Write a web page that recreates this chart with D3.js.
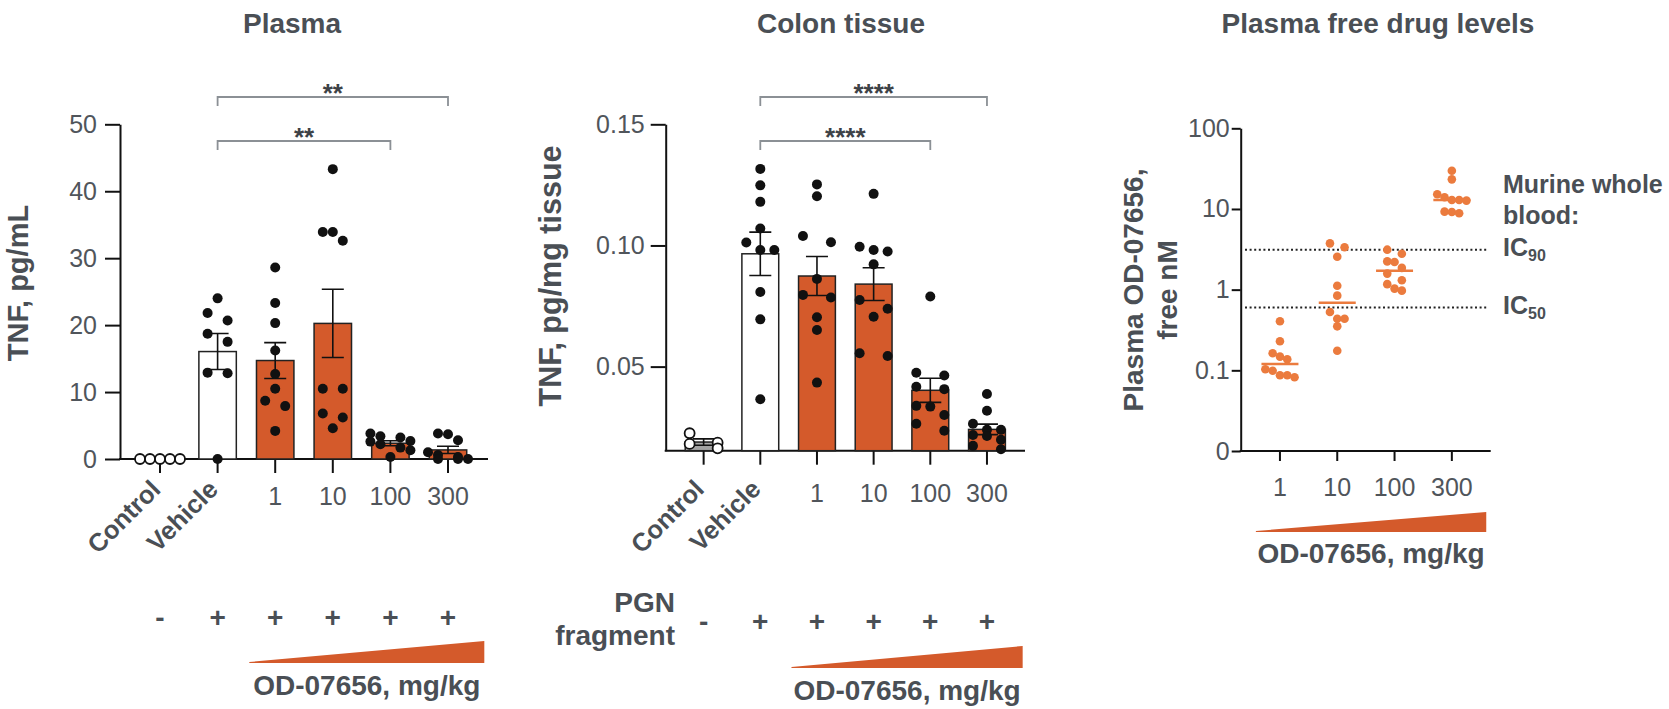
<!DOCTYPE html>
<html>
<head>
<meta charset="utf-8">
<script src="https://cdn.jsdelivr.net/npm/d3@7"></script>
<style>
  body { margin: 0; background: #fff; }
  svg text { font-family: "Liberation Sans", Arial, Helvetica, sans-serif; fill: #4a4f55; }
</style>
</head>
<body>
<svg id="chart" width="1669" height="709"></svg>
<script>
// groups on the x axis of the two TNF panels
const groups = ["Control", "Vehicle", "1", "10", "100", "300"];
const pgnRow = ["-", "+", "+", "+", "+", "+"];

// TNF in plasma, pg/mL (one array per group)
const plasmaTNF = [
  [0, 0, 0, 0, 0],
  [24.0, 21.8, 20.7, 18.7, 17.5, 12.9, 12.8, 0],
  [28.6, 23.3, 20.3, 16.2, 12.7, 10.5, 8.7, 7.9, 4.2],
  [43.3, 33.9, 33.9, 32.6, 10.5, 10.5, 6.8, 6.2, 4.6],
  [3.8, 3.4, 3.2, 2.7, 2.6, 2.2, 1.7, 1.3, 0.3],
  [3.8, 3.7, 2.8, 1.0, 0.6, 0.3, 0, 0, 0]
];

// TNF in colon tissue, pg/mg tissue
const colonTNF = [
  [0.0225, 0.0186, 0.0181, 0.0163],
  [0.1316, 0.1248, 0.118, 0.107, 0.1012, 0.0981, 0.0981, 0.0808, 0.0695, 0.0365],
  [0.1252, 0.1203, 0.1039, 0.1013, 0.0862, 0.0796, 0.0785, 0.0704, 0.0651, 0.0434],
  [0.1213, 0.0995, 0.0975, 0.0981, 0.0922, 0.0775, 0.0739, 0.0706, 0.0544, 0.0555],
  [0.0789, 0.0475, 0.0463, 0.0417, 0.0407, 0.0338, 0.0335, 0.030, 0.0264, 0.0235],
  [0.0387, 0.0318, 0.0264, 0.0239, 0.0214, 0.0218, 0.0239, 0.0173, 0.0159, 0.0198]
];

// plasma free drug, nM
const doses = ["1", "10", "100", "300"];
const freeDrug = [
  [0.405, 0.229, 0.163, 0.148, 0.137, 0.103, 0.099, 0.087, 0.087, 0.082],
  [3.75, 3.35, 2.56, 1.12, 0.843, 0.529, 0.436, 0.436, 0.351, 0.175],
  [3.13, 2.79, 2.24, 2.2, 1.86, 1.58, 1.31, 1.17, 1.03, 0.972],
  [29.8, 23.3, 15.2, 13.97, 12.9, 12.9, 12.7, 9.27, 9.18, 8.84]
];
const ic90 = 3.13;
const ic50 = 0.60;

const plasmaSig = [
  { from: "Vehicle", to: "100", label: "**" },
  { from: "Vehicle", to: "300", label: "**" }
];
const colonSig = [
  { from: "Vehicle", to: "100", label: "****" },
  { from: "Vehicle", to: "300", label: "****" }
];

const ORANGE = "#d45a2b";
const DOT3 = "#eb7b3e";
const BRACKET = "#8b9095";
const FONT_B = 28;

const svg = d3.select("#chart");

// scatter layout: points with close values go into one row, spread side by side
function swarm(values, y, r, step, maxRow) {
  const pts = values.map(v => ({ v, py: y(v) })).sort((a, b) => b.v - a.v);
  const rows = [];
  pts.forEach(p => {
    const row = rows[rows.length - 1];
    if (row && Math.abs(p.py - row[0].py) < 2 * r && row.length < maxRow) row.push(p);
    else rows.push([p]);
  });
  rows.forEach(row => {
    const n = row.length;
    let offs;
    if (n % 2) offs = d3.range(n).map(i => i - (n - 1) / 2);
    else offs = d3.range(n).map(i => { const k = i - n / 2; return k < 0 ? k : k + 1; });
    row.forEach((p, i) => { p.dx = offs[i] * step; });
  });
  return pts;
}

function sem(arr) {
  return arr.length > 1 ? d3.deviation(arr) / Math.sqrt(arr.length) : 0;
}

function boldText(g, x, y, str, size, anchor) {
  return g.append("text").attr("x", x).attr("y", y).attr("text-anchor", anchor || "middle")
    .attr("font-weight", "bold").attr("font-size", size || FONT_B).text(str);
}

function barPanel(cfg) {
  const g = svg.append("g");
  const x = d3.scaleBand().domain(groups).range(cfg.xRange);
  const y = cfg.y;
  const bw = x.bandwidth() * 0.65;
  const cx = d => x(d) + x.bandwidth() / 2;

  // y axis
  const ya = g.append("g").attr("transform", `translate(${cfg.axisX},0)`)
    .call(d3.axisLeft(y).tickValues(cfg.yTicks).tickFormat(cfg.yFormat)
      .tickSize(15).tickSizeOuter(0).tickPadding(cfg.yPad));
  ya.selectAll("path,line").attr("stroke", "#111").attr("stroke-width", 2);
  ya.selectAll("text").attr("font-size", 25).attr("font-family", null).style("fill", "#50555b");

  // x axis
  const xa = g.append("g").attr("transform", `translate(0,${y.range()[0]})`)
    .call(d3.axisBottom(x).tickSize(14).tickPadding(cfg.xPad));
  xa.select(".domain").remove();
  xa.selectAll("line").attr("stroke", "#111").attr("stroke-width", 2);
  xa.selectAll("text").attr("font-size", 25).attr("font-family", null).style("fill", "#50555b");
  xa.selectAll(".tick text").filter(d => d === "Control" || d === "Vehicle")
    .attr("font-weight", "bold").attr("font-size", 25.5).style("fill", "#4a4f55")
    .attr("text-anchor", "end").attr("dy", null)
    .attr("x", 2).attr("y", cfg.rotY)
    .attr("transform", `rotate(-45,2,${cfg.rotY})`);
  g.append("line").attr("x1", cfg.axisX - 1).attr("x2", cfg.axisEnd)
    .attr("y1", y.range()[0]).attr("y2", y.range()[0])
    .attr("stroke", "#111").attr("stroke-width", 2);

  const stats = cfg.data.map((arr, i) => ({ key: groups[i], vals: arr, mean: d3.mean(arr), se: sem(arr) }));

  // bars
  g.selectAll("rect.bar").data(stats.filter(s => s.mean > y.domain()[0] + 1e-9)).join("rect")
    .attr("class", "bar")
    .attr("x", d => cx(d.key) - bw / 2).attr("width", bw)
    .attr("y", d => y(d.mean)).attr("height", d => y.range()[0] - y(d.mean))
    .attr("fill", d => d.key === "Vehicle" ? "#fff" : d.key === "Control" ? "#a3a3a3" : ORANGE)
    .attr("stroke", "#222").attr("stroke-width", 1.5);

  // error bars (mean ± SEM)
  stats.filter(s => s.se > 0).forEach(s => {
    const c = cx(s.key), hi = y(s.mean + s.se), lo = y(Math.max(s.mean - s.se, y.domain()[0]));
    g.append("path").attr("d", `M${c},${hi}V${lo}M${c - 11},${hi}H${c + 11}M${c - 11},${lo}H${c + 11}`)
      .attr("stroke", "#111").attr("stroke-width", 1.6).attr("fill", "none");
  });

  // dots
  stats.forEach(s => {
    const open = s.key === "Control";
    g.selectAll(null).data(swarm(s.vals, y, cfg.r, cfg.step, 4)).join("circle")
      .attr("cx", d => cx(s.key) + d.dx).attr("cy", d => d.py).attr("r", cfg.r)
      .attr("fill", open ? "#fff" : "#111").attr("stroke", "#111").attr("stroke-width", open ? 1.8 : 0);
  });

  // significance brackets
  cfg.sig.forEach((b, i) => {
    const by = cfg.sigY[i], x1 = cx(b.from), x2 = cx(b.to);
    g.append("path").attr("d", `M${x1},${by + 9}V${by}H${x2}V${by + 9}`)
      .attr("stroke", BRACKET).attr("stroke-width", 1.8).attr("fill", "none");
    boldText(g, (x1 + x2) / 2, by + 5, b.label, 26).style("fill", "#3d4247");
  });

  // PGN +/- row
  pgnRow.forEach((s, i) => boldText(g, cx(groups[i]), cfg.pmY, s, 28));

  // dose wedge
  const step = x.step();
  const wx0 = cx("1") - 0.45 * step, wx1 = cx("300") + 0.63 * step;
  g.append("path").attr("d", `M${wx0},${cfg.wedgeY}L${wx1},${cfg.wedgeY - 21}V${cfg.wedgeY + 1}H${wx0}Z`)
    .attr("fill", ORANGE);
  boldText(g, (wx0 + wx1) / 2, cfg.wedgeY + 33, "OD-07656, mg/kg");

  // titles
  boldText(g, cfg.titleX, 33, cfg.title);
  g.append("text").attr("transform", `translate(${cfg.ylabX},${cfg.ylabY}) rotate(-90)`)
    .attr("text-anchor", "middle").attr("font-weight", "bold").attr("font-size", cfg.ylabSize).text(cfg.ylab);
  return { g, x, y };
}

barPanel({
  data: plasmaTNF,
  xRange: [131.2, 476.8], axisX: 120, axisEnd: 488,
  y: d3.scaleLinear().domain([0, 50]).range([459, 124.3]),
  yTicks: [0, 10, 20, 30, 40, 50], yFormat: d3.format("d"), yPad: 8, xPad: 14, rotY: 32,
  r: 5, step: 10, sig: plasmaSig, sigY: [141, 97],
  pmY: 627, wedgeY: 662, title: "Plasma", titleX: 292,
  ylab: "TNF, pg/mL", ylabX: 28, ylabY: 283, ylabSize: 29
});

const colon = barPanel({
  data: colonTNF,
  xRange: [675.3, 1015.3], axisX: 665.7, axisEnd: 1025,
  y: d3.scaleLinear().domain([0.0153, 0.15]).range([450.7, 124.3]),
  yTicks: [0.05, 0.10, 0.15], yFormat: d3.format(".2f"), yPad: 6, xPad: 20, rotY: 40,
  r: 5, step: 14, sig: colonSig, sigY: [141, 97],
  pmY: 631, wedgeY: 667, title: "Colon tissue", titleX: 841,
  ylab: "TNF, pg/mg tissue", ylabX: 561, ylabY: 276, ylabSize: 30.5
});
boldText(colon.g, 675, 612, "PGN", 28, "end");
boldText(colon.g, 675, 645, "fragment", 28, "end");

// ---- plasma free drug levels ----
(function () {
  const g = svg.append("g");
  const x = d3.scaleBand().domain(doses).range([1251.3, 1480.5]);
  const y = d3.scaleLog().domain([0.01, 100]).range([451, 128.3]);
  const cx = d => x(d) + x.bandwidth() / 2;
  const axisX = 1240.7, axisEnd = 1490.7;

  const ya = g.append("g").attr("transform", `translate(${axisX},0)`)
    .call(d3.axisLeft(y).tickValues([0.01, 0.1, 1, 10, 100])
      .tickFormat(v => v < 0.05 ? "0" : String(v)).tickSize(9).tickSizeOuter(0).tickPadding(2));
  ya.selectAll("path,line").attr("stroke", "#111").attr("stroke-width", 2);
  ya.selectAll("text").attr("font-size", 25).attr("font-family", null).style("fill", "#50555b");

  const xa = g.append("g").attr("transform", `translate(0,${y.range()[0]})`)
    .call(d3.axisBottom(x).tickSize(10).tickPadding(17));
  xa.select(".domain").remove();
  xa.selectAll("line").attr("stroke", "#111").attr("stroke-width", 2);
  xa.selectAll("text").attr("font-size", 25).attr("font-family", null).style("fill", "#50555b");
  g.append("line").attr("x1", axisX - 1).attr("x2", axisEnd)
    .attr("y1", y.range()[0]).attr("y2", y.range()[0]).attr("stroke", "#111").attr("stroke-width", 2);

  // IC lines
  [ic90, ic50].forEach(v => {
    g.append("line").attr("x1", 1245).attr("x2", 1488).attr("y1", y(v)).attr("y2", y(v))
      .attr("stroke", "#222").attr("stroke-width", 2).attr("stroke-dasharray", "2,2.6");
  });

  freeDrug.forEach((arr, i) => {
    const c = cx(doses[i]);
    g.selectAll(null).data(swarm(arr, y, 4.3, 7.3, 5)).join("circle")
      .attr("cx", d => c + d.dx).attr("cy", d => d.py).attr("r", 4.3).attr("fill", DOT3);
    const m = y(d3.median(arr));
    g.append("line").attr("x1", c - 18.5).attr("x2", c + 18.5).attr("y1", m).attr("y2", m)
      .attr("stroke", DOT3).attr("stroke-width", 2.5);
  });

  // annotation
  const ax = 1503;
  boldText(g, ax, 193, "Murine whole", 25, "start");
  boldText(g, ax, 224, "blood:", 25, "start");
  [[ic90, "90"], [ic50, "50"]].forEach(([v, sub]) => {
    const t = boldText(g, ax, y(v) + 6, "IC", 25, "start");
    t.append("tspan").attr("font-size", 16).attr("dy", 5).text(sub);
  });

  // dose wedge + label
  const step = x.step();
  const wx0 = cx("1") - 0.42 * step, wx1 = cx("300") + 0.6 * step;
  g.append("path").attr("d", `M${wx0},${531}L${wx1},${512}V${532}H${wx0}Z`).attr("fill", ORANGE);
  boldText(g, (wx0 + wx1) / 2, 563, "OD-07656, mg/kg");

  boldText(g, 1378, 33, "Plasma free drug levels");
  const yl = 290;
  g.append("text").attr("transform", `translate(1143,${yl}) rotate(-90)`).attr("text-anchor", "middle")
    .attr("font-weight", "bold").attr("font-size", 28).text("Plasma OD-07656,");
  g.append("text").attr("transform", `translate(1177,${yl}) rotate(-90)`).attr("text-anchor", "middle")
    .attr("font-weight", "bold").attr("font-size", 28).text("free nM");
})();
</script>
</body>
</html>
